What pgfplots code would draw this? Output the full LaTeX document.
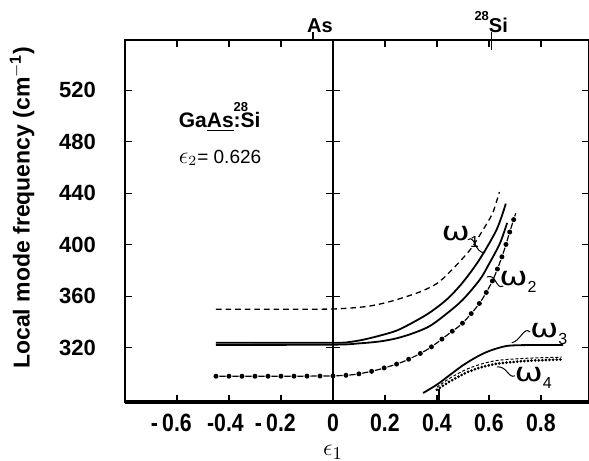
\documentclass[border=0pt]{standalone}
\usepackage{pgfplots}
\pgfplotsset{compat=1.18}
\usepackage{fontspec}
\setmainfont{Liberation Sans}
\newfontfamily\xtfont[FakeStretch=0.85]{Liberation Sans}
\newfontfamily\djfont{DejaVu Sans}
\usepackage{graphicx}
\newcommand{\om}[1]{{\djfont\fontsize{13}{13}\selectfont\scalebox{1.3}[1]{ω}}\raisebox{-0.35em}{\fontsize{8}{8}\selectfont #1}}
\begin{document}
\begin{tikzpicture}
\begin{axis}[
  scale only axis, width=232pt, height=181pt,
  xmin=-0.8, xmax=0.985, ymin=278, ymax=559,
  clip=false,
  axis line style={line width=0.6pt},
  tick style={black, line width=0.6pt},
  major tick length=3.5pt,
  xtick={-0.6,-0.4,-0.2,0,0.2,0.4,0.6,0.8},
  xticklabels={\llap{-\,}0.6,\llap{-}0.4,\llap{-\,}0.2,0,0.2,0.4,0.6,0.8},
  xticklabel style={font=\xtfont\bfseries\fontsize{12.5}{12.5}\selectfont, yshift=-2.5pt},
  ytick={320,360,400,440,480,520},
  yticklabel style={font=\bfseries\fontsize{11}{11}\selectfont, xshift=-11pt},
  /pgf/number format/assume math mode=true,
]
% bottom thick line
\draw[line width=1.8pt] (rel axis cs:0,0) -- (rel axis cs:1,0);
% vertical line at 0 with crosses
\addplot[black, line width=0.7pt] coordinates {(0,278) (0,559)};
\addplot[black, only marks, mark=-, mark size=3.5pt, mark options={line width=0.6pt}] coordinates {(0,320) (0,360) (0,400) (0,440) (0,480) (0,520)};

% omega1 dashed
\addplot[black, line width=0.65pt, dash pattern=on 2.8pt off 2pt, smooth] coordinates {
(-0.45,350) (-0.2,350) (0,350.2) (0.115,351.8) (0.18,354) (0.246,357.5) (0.335,363.5) (0.4,370) (0.45,379) (0.527,396) (0.577,411.5) (0.615,425) (0.64,441)};
% omega1 solid (upper)
\addplot[black, line width=0.9pt, smooth] coordinates {
(-0.45,324) (0,324) (0.06,324.5) (0.115,326.3) (0.18,329.5) (0.246,333.5) (0.31,340) (0.373,347.5) (0.44,358) (0.5,371) (0.565,389) (0.63,412) (0.665,432)};
% omega2 solid (lower)
\addplot[black, line width=0.9pt, smooth] coordinates {
(-0.45,322.3) (0,322.5) (0.1,323.5) (0.18,325) (0.246,327.5) (0.31,331.5) (0.373,337) (0.44,347) (0.5,357.5) (0.565,373) (0.6,385) (0.642,401) (0.67,417)};
% omega2 dotted (dots + dashes)
\addplot[black, line width=2.5pt, line cap=round, dash pattern=on 0pt off 6.5pt, smooth] coordinates {
(-0.45,298) (0,298.3) (0.13,301) (0.246,307.5) (0.31,313) (0.373,320) (0.45,331.6) (0.5,339.5) (0.565,355) (0.615,372.7) (0.654,393) (0.68,410) (0.703,424.5)};
\addplot[black, line width=0.6pt, dash pattern=on 0pt off 1.7pt on 3.1pt off 1.7pt, smooth] coordinates {
(-0.45,298) (0,298.3) (0.13,301) (0.246,307.5) (0.31,313) (0.373,320) (0.45,331.6) (0.5,339.5) (0.565,355) (0.615,372.7) (0.654,393) (0.68,410) (0.703,424.5)};

% omega3 solid
\addplot[black, line width=0.9pt, smooth] coordinates {
(0.347,285) (0.4,291.5) (0.45,299) (0.5,306.5) (0.553,313) (0.6,317.5) (0.668,321.5) (0.75,322.2) (0.885,322.2)};
% omega4 dashed (upper)
\addplot[black, line width=0.5pt, dash pattern=on 1.5pt off 1pt, smooth] coordinates {
(0.4,289.5) (0.45,296.5) (0.515,303.5) (0.58,308) (0.642,310.5) (0.75,312) (0.88,312.8)};
% omega4 heavy dotted
\addplot[black, line width=1.5pt, line cap=round, dash pattern=on 0pt off 1.8pt, smooth] coordinates {
(0.4,287.5) (0.45,294) (0.515,301) (0.58,305.5) (0.642,308) (0.75,310) (0.88,311)};
% stub
\addplot[black, line width=0.9pt] coordinates {(0.407,278) (0.407,288)};
% top ticks for As and Si
\addplot[black, line width=0.6pt] coordinates {(-0.077,559) (-0.077,565.2)};
\addplot[black, line width=0.6pt] coordinates {(0.61,551.5) (0.61,565.2)};

% leaders
\draw[line width=0.5pt] (axis cs:0.519,404) .. controls (axis cs:0.548,408) and (axis cs:0.545,393) .. (axis cs:0.585,394);
\draw[line width=0.5pt] (axis cs:0.655,368) .. controls (axis cs:0.625,365) and (axis cs:0.63,378) .. (axis cs:0.592,375);
\draw[line width=0.5pt] (axis cs:0.758,332.4) .. controls (axis cs:0.735,337) and (axis cs:0.72,325) .. (axis cs:0.688,324);
\draw[line width=0.5pt] (axis cs:0.7,298.3) .. controls (axis cs:0.675,296) and (axis cs:0.67,306) .. (axis cs:0.631,305.3);

% omega labels
\node at (axis cs:0.49,406) {\om{1}};
\node at (axis cs:0.712,371) {\om{2}};
\node at (axis cs:0.83,331) {\om{3}};
\node at (axis cs:0.77,296.5) {\om{4}};

% in-plot text
\node[anchor=base west, font=\bfseries\fontsize{10.5}{10.5}\selectfont] at (axis cs:-0.62,491)
  {Ga\underline{As}\rlap{\raisebox{0.75em}{\fontsize{6.5}{6.5}\selectfont 28}}:Si};
\node[anchor=base west, font=\fontsize{9.5}{9.5}\selectfont] at (axis cs:-0.62,463.4) {{\fontsize{12}{12}\selectfont$\epsilon$}$_2$= 0.626};

% top labels
\node[anchor=base, font=\bfseries\fontsize{10}{10}\selectfont] at (axis cs:-0.05,565.2) {As};
\node[anchor=base west, font=\bfseries\fontsize{10}{10}\selectfont] at (axis cs:0.573,565.2) {\llap{\raisebox{0.6em}{\fontsize{6.5}{6.5}\selectfont 28}}Si};

% axis labels
\node[anchor=base, inner sep=1pt, font=\fontsize{13}{13}\selectfont] at (axis cs:0,236.5) {$\epsilon_1$};
\node[rotate=90, font=\bfseries\fontsize{11.5}{11.5}\selectfont] at ([shift={(-51.5pt,0pt)}]rel axis cs:0,0.537) {Local mode frequency (cm$^{\mathbf{-1}}$)};
\end{axis}
\pgfresetboundingbox
\path ([shift={(-62.5pt,-29.25pt)}]current axis.south west) rectangle ([shift={(0pt,20pt)}]current axis.north east);
\end{tikzpicture}
\end{document}
